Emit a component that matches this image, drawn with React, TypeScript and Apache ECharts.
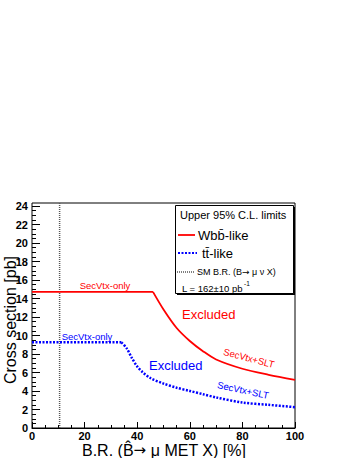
import React, { useEffect, useRef } from "react";
import * as echarts from "echarts";

const RED_X = [0, 46, 50, 55, 60, 65, 70, 80, 90, 100];
const RED_Y = [14.7, 14.7, 12.8, 10.8, 9.4, 8.3, 7.4, 6.4, 5.75, 5.2];
const BLUE_X = [0, 34, 36, 38, 40, 42, 45, 50, 55, 60, 65, 70, 80, 90, 100];
const BLUE_Y = [9.25, 9.25, 8.6, 7.55, 6.65, 6.05, 5.4, 4.8, 4.35, 4.0, 3.65, 3.3, 2.75, 2.5, 2.25];
const SM_BR = 10.5;
const X_MIN = 0;
const X_MAX = 100;
const X_INTERVAL = 20;
const Y_MIN = 0;
const Y_MAX_FRAME = 24.3;
const Y_MAX_TICKS = 24;
const Y_INTERVAL = 2;

const FONT = '"Liberation Sans", Arial, Helvetica, sans-serif';

function pairs(xs: number[], ys: number[]) {
  return xs.map((x, i) => [x, ys[i]]);
}

export default function App() {
  const ref = useRef<HTMLDivElement>(null);
  useEffect(() => {
    if (!ref.current) return;
    const chart = echarts.init(ref.current, undefined, { renderer: "svg" });
    const txt = (
      text: string,
      x: number,
      y: number,
      size: number,
      color: string,
      opts: any = {}
    ) => ({
      type: "text",
      x,
      y,
      rotation: opts.rotation || 0,
      z: opts.z || 100,
      style: {
        text,
        x: 0,
        y: 0,
        fill: color,
        fontSize: size,
        fontFamily: FONT,
        fontWeight: opts.weight || "normal",
        fontStyle: opts.style || "normal",
        textAlign: opts.align || "left",
        textVerticalAlign: "middle",
        rich: opts.rich,
      },
    });
    const red = pairs(RED_X, RED_Y);
    const blue = pairs(BLUE_X, BLUE_Y);
    const lineBase = { type: "line", xAxisIndex: 0, yAxisIndex: 0, symbol: "none", z: 4 };
    const redStyle = { color: "#ff0000", width: 1.8 };
    const blueStyle = { color: "#0000ff", width: 2.5, type: [2, 1.5] };
    const option: any = {
      animation: false,
      backgroundColor: "#fff",
      grid: [
        {
          left: 32,
          right: 59,
          top: 203,
          bottom: 30,
          show: true,
          borderColor: "#000",
          borderWidth: 1,
          backgroundColor: "transparent",
          containLabel: false,
          outerBoundsMode: "none",
        },
        {
          left: 32,
          right: 59,
          top: 206,
          bottom: 30,
          show: false,
          containLabel: false,
          outerBoundsMode: "none",
        },
      ],
      xAxis: [
        {
          type: "value",
          gridIndex: 0,
          min: X_MIN,
          max: X_MAX,
          interval: X_INTERVAL,
          axisLine: { show: true, lineStyle: { color: "#000", width: 1 } },
          axisTick: { show: true, inside: true, length: 6, lineStyle: { color: "#000" } },
          minorTick: { show: true, splitNumber: 4, length: 3, lineStyle: { color: "#000" } },
          splitLine: { show: false },
          axisLabel: {
            show: true,
            margin: 2,
            color: "#000",
            fontSize: 11,
            fontWeight: "bold",
            fontFamily: FONT,
          },
        },
        {
          type: "value",
          gridIndex: 1,
          min: X_MIN,
          max: X_MAX,
          show: false,
        },
      ],
      yAxis: [
        {
          type: "value",
          gridIndex: 0,
          min: Y_MIN,
          max: Y_MAX_FRAME,
          axisLine: { show: false },
          axisTick: { show: false },
          axisLabel: { show: false },
          splitLine: { show: false },
        },
        {
          type: "value",
          gridIndex: 1,
          min: Y_MIN,
          max: Y_MAX_TICKS,
          interval: Y_INTERVAL,
          axisLine: { show: false },
          axisTick: { show: true, inside: true, length: 8, lineStyle: { color: "#000" } },
          minorTick: { show: true, splitNumber: 4, length: 4, lineStyle: { color: "#000" } },
          splitLine: { show: false },
          axisLabel: {
            show: true,
            margin: 4,
            color: "#000",
            fontSize: 11,
            fontWeight: "bold",
            fontFamily: FONT,
          },
        },
      ],
      series: [
        {
          ...lineBase,
          data: [
            [SM_BR, Y_MIN],
            [SM_BR, Y_MAX_FRAME],
          ],
          lineStyle: { color: "#555", width: 1.5, type: [1, 1] },
          z: 3,
        },
        { ...lineBase, data: red.slice(0, 2), lineStyle: redStyle },
        { ...lineBase, data: red.slice(1), lineStyle: redStyle, smooth: 0.3 },
        { ...lineBase, data: blue.slice(0, 2), lineStyle: blueStyle },
        { ...lineBase, data: blue.slice(1), lineStyle: blueStyle, smooth: 0.3 },
      ],
      graphic: [
        // axis titles
        txt("Cross section [pb]", 10, 320, 16, "#000", { rotation: Math.PI / 2, align: "center" }),
        txt("B.R. (B\u0302{a|\u2192} \u03bc MET X) [%]", 164, 450, 16, "#000", {
          align: "center",
          rich: { a: { fontFamily: '"DejaVu Sans"', fontSize: 15, fill: "#000" } },
        }),
        // curve annotations
        txt("SecVtx-only", 105, 285, 9.5, "#ff0000", { align: "center" }),
        txt("SecVtx-only", 87, 336, 9.5, "#0000ff", { align: "center" }),
        txt("Excluded", 182, 314, 13, "#ff0000"),
        txt("Excluded", 149, 365, 13, "#0000ff"),
        txt("SecVtx+SLT", 249, 358, 9.5, "#ff0000", { align: "center", rotation: -0.26 }),
        txt("SecVtx+SLT", 243, 390, 9.5, "#0000ff", { align: "center", rotation: -0.21 }),
        // legend box
        {
          type: "rect",
          z: 90,
          shape: { x: 177, y: 207, width: 118, height: 88 },
          style: { fill: "#000" },
        },
        {
          type: "rect",
          z: 91,
          shape: { x: 175.5, y: 205.5, width: 118, height: 88 },
          style: { fill: "#fff", stroke: "#000", lineWidth: 1 },
        },
        txt("Upper 95% C.L. limits", 180, 215, 11, "#000"),
        {
          type: "line",
          z: 100,
          shape: { x1: 178, y1: 235, x2: 195, y2: 235 },
          style: { stroke: "#ff0000", lineWidth: 1.8 },
        },
        txt("Wbb\u0304-like", 198, 235, 13, "#000"),
        {
          type: "line",
          z: 100,
          shape: { x1: 178, y1: 253, x2: 197, y2: 253 },
          style: { stroke: "#0000ff", lineWidth: 2, lineDash: [2, 1.5] },
        },
        txt("tt\u0304-like", 202, 253, 13, "#000"),
        {
          type: "line",
          z: 100,
          shape: { x1: 177, y1: 272, x2: 195, y2: 272 },
          style: { stroke: "#555", lineWidth: 1.3, lineDash: [1, 1] },
        },
        txt("SM B.R. (B{a|\u2192} \u03bc \u03bd X)", 197, 272, 9, "#000", {
          rich: { a: { fontFamily: '"DejaVu Sans"', fontSize: 9, fill: "#000" } },
        }),
        txt("L = 162\u00b110 pb", 182, 288, 9.5, "#000"),
        txt("-1", 244, 283, 6.5, "#000"),
      ],
    };
    chart.setOption(option);
    return () => chart.dispose();
  }, []);
  return (
    <div
      ref={ref}
      style={{ position: "fixed", left: 0, top: 0, width: 354, height: 458 }}
    />
  );
}
